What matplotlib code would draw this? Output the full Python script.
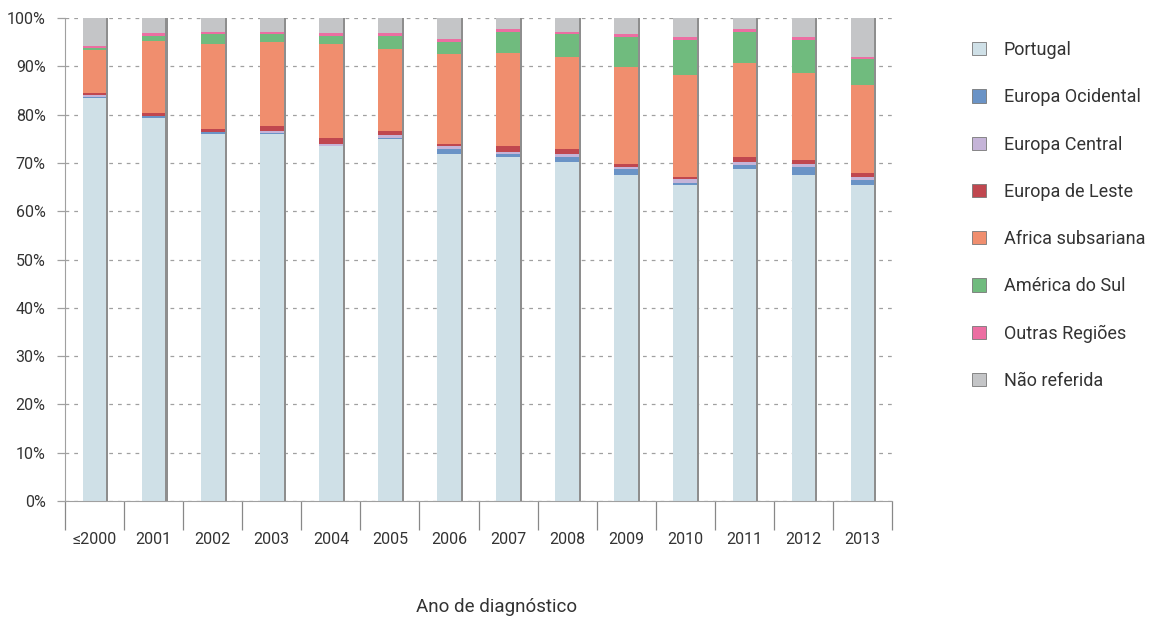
"""Distribuição por região de origem, por ano de diagnóstico"""
import numpy as np
import matplotlib.pyplot as plt
from matplotlib.patches import Patch

plt.rcParams['font.family'] = ['Roboto', 'DejaVu Sans']

# Dados (% por ano de diagnóstico)
anos = ['≤2000', '2001', '2002', '2003', '2004', '2005', '2006',
        '2007', '2008', '2009', '2010', '2011', '2012', '2013']
portugal = [83.5, 79.2, 76.0, 76.0, 73.4, 75.0, 71.8, 71.3, 70.2, 67.6, 65.4, 68.7, 67.6, 65.4]
europa_ocidental = [0.1, 0.5, 0.4, 0.1, 0.1, 0.1, 1.1, 0.5, 1.0, 1.1, 0.5, 0.9, 1.6, 1.1]
europa_central = [0.4, 0.1, 0.1, 0.5, 0.5, 0.6, 0.6, 0.5, 0.6, 0.5, 0.7, 0.6, 0.5, 0.5]
europa_leste = [0.5, 0.6, 0.6, 1.0, 1.1, 1.0, 0.4, 1.1, 1.1, 0.5, 0.4, 1.0, 0.9, 1.0]
africa = [8.8, 14.8, 17.5, 17.5, 19.6, 16.9, 18.6, 19.4, 19.1, 20.1, 21.2, 19.5, 18.1, 18.1]
america_sul = [0.5, 1.0, 2.0, 1.5, 1.5, 2.6, 2.6, 4.4, 4.6, 6.3, 7.3, 6.5, 6.8, 5.4]
outras = [0.4, 0.6, 0.6, 0.5, 0.6, 0.6, 0.6, 0.5, 0.6, 0.6, 0.5, 0.5, 0.6, 0.5]

series = [portugal, europa_ocidental, europa_central, europa_leste, africa, america_sul, outras]
nao_referida = [100 - sum(v) for v in zip(*series)]
series.append(nao_referida)

nomes = ['Portugal', 'Europa Ocidental', 'Europa Central', 'Europa de Leste',
         'Africa subsariana', 'América do Sul', 'Outras Regiões', 'Não referida']
cores = ['#cfe0e7', '#6a93c6', '#c5b4d8', '#c0474f',
         '#f08e6e', '#70bb7e', '#ec6ea2', '#c4c5c7']

fig = plt.figure(figsize=(11.55, 6.19), dpi=100)
ax = fig.add_axes([0.0563, 0.1906, 0.716, 0.7803])

x = np.arange(len(anos))
w = 0.40

# sombra à direita das barras
totais = np.sum(series, axis=0)
ax.bar(x + 0.035, totais, width=w, color='#8e8e8e', zorder=1)

base = np.zeros(len(anos))
for vals, nome, cor in zip(series, nomes, cores):
    ax.bar(x, vals, width=w, bottom=base, color=cor, label=nome, zorder=2)
    base += np.array(vals)

ax.set_xlim(-0.5, len(anos) - 0.5)
ax.set_ylim(0, 100)
ax.set_yticks(np.arange(0, 101, 10))
ax.set_yticklabels([f'{v}%' for v in range(0, 101, 10)])
ax.yaxis.grid(True, linestyle=(0, (3, 4)), color='#a0a0a0', linewidth=0.9, zorder=0)
ax.set_axisbelow(True)

ax.set_xticks(x)
ax.set_xticklabels(anos)
ax.set_xticks(np.arange(-0.5, len(anos)), minor=True)
ax.tick_params(axis='x', which='major', length=0, pad=22, labelsize=11.5, labelcolor='#333333')
ax.tick_params(axis='x', which='minor', length=21, width=0.9, color='#888888')
ax.tick_params(axis='y', length=6, width=0.9, color='#a0a0a0', pad=8, labelsize=11.5, labelcolor='#333333')

for s in ['top', 'right']:
    ax.spines[s].set_visible(False)
ax.spines['left'].set_color('#a0a0a0')
ax.spines['bottom'].set_color('#a0a0a0')

# legenda
handles = [Patch(facecolor=c, edgecolor='#777777', linewidth=0.6) for c in cores]
fig.legend(handles, nomes, loc='upper left', bbox_to_anchor=(972 / 1155, 1 - 41 / 619),
           frameon=False, fontsize=13, labelcolor='#333333', handlelength=0.75,
           handleheight=0.75, handletextpad=1.0, labelspacing=1.62,
           borderpad=0, borderaxespad=0)

fig.text(497 / 1155, 1 - 607 / 619, 'Ano de diagnóstico', ha='center', va='center',
         fontsize=13.5, color='#333333')

plt.savefig('out.png', dpi=100, facecolor='white')
plt.close()
